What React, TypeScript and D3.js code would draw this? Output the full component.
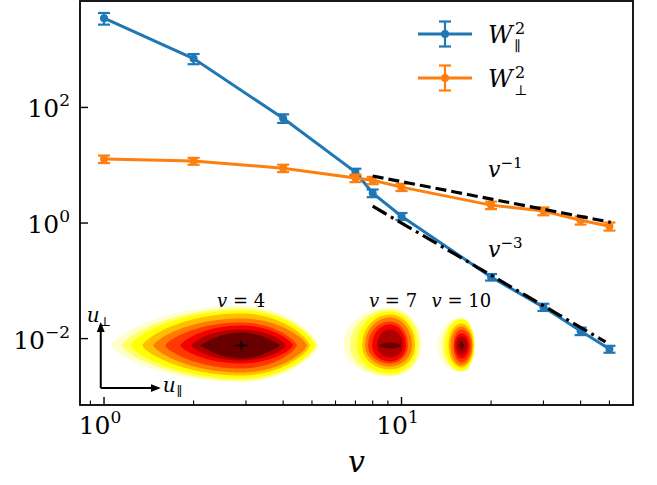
import React from "react";
import * as d3 from "d3";

// ---------- data ----------
const speeds = [1, 2, 4, 7, 8, 10, 20, 30, 40, 50];
const wPar = [3510, 700, 65, 7.6, 3.3, 1.31, 0.116, 0.0351, 0.0135, 0.0066];
const wParErr = [800, 140, 11, 1.1, 0.5, 0.18, 0.015, 0.005, 0.002, 0.0009];
const wPerp = [12.8, 11.8, 8.9, 6.0, 5.5, 4.18, 2.04, 1.61, 1.12, 0.88];
const wPerpErr = [1.9, 1.6, 1.3, 0.9, 0.8, 0.6, 0.3, 0.25, 0.18, 0.14];

const xMajor = [1, 10];
const xMajorExp = ["0", "1"];
const xMinor = [0.9, 2, 3, 4, 5, 6, 7, 8, 9, 20, 30, 40, 50];
const yMajor = [0.01, 1, 100];
const yMajorExp = ["−2", "0", "2"];

// guide slopes
const slope1Range = [8, 50.5];
const slope1Coef = 52;
const slope3Range = [8, 48.5];
const slope3Coef = 1000;

// inset velocity distributions (contour images)
const blobLabels = ["v = 4", "v = 7", "v = 10"];
const blobCenterV = [2.89, 9.15, 15.9];
const blobCenterY = 0.0076;
const levelTones = [0.05, 0.15, 0.25, 0.35, 0.45, 0.55, 0.65, 0.75, 0.85];
// extents per contour level: [left, right, up, down]
const blob4 = [
  [131, 78, 40, 37], [120, 76, 37, 35], [111, 74, 35, 33], [99, 69, 32, 30],
  [88, 66, 27, 27], [76, 56, 23, 23], [61, 52, 20, 18], [50, 45, 16, 15], [41, 39, 13, 13],
];
const blob7 = [
  [47, 32, 38, 31], [40, 30, 36, 30], [33, 27, 34, 28], [28, 25, 31, 24],
  [25, 22, 28, 21], [22, 18, 24, 18], [18, 16, 21, 16], [13, 13, 16, 12], [12, 12, 3, 3],
];
const blob10 = [
  [24, 14, 28, 27], [19, 13, 27, 26], [16, 13, 26, 25], [13, 12, 22, 22],
  [11, 11, 19, 20], [8, 10, 16, 17], [7, 8, 12, 13], [5, 6, 9, 9], [3, 3, 5, 5],
];
const blobLevels = [blob4, blob7, blob10];

// ---------- helpers ----------
function hotR(t: number) {
  const x = 1 - t;
  const r = Math.min(1, x / 0.365079);
  const g = Math.max(0, Math.min(1, (x - 0.365079) / (0.746032 - 0.365079)));
  const b = Math.max(0, Math.min(1, (x - 0.746032) / (1 - 0.746032)));
  return d3.rgb(r * 255, g * 255, b * 255).formatHex();
}

function blobPath(L: number, R: number, U: number, D: number, q: number, e: number) {
  const n = 60;
  const top: [number, number][] = [];
  const bot: [number, number][] = [];
  for (let i = 0; i <= n; i++) {
    const x = -L + ((L + R) * i) / n;
    const s = x < 0 ? L : R;
    const f = Math.pow(Math.max(0, 1 - Math.pow(Math.abs(x) / s, q)), e);
    top.push([x, -U * f]);
    bot.push([x, D * f]);
  }
  const pts = top.concat(bot.reverse());
  return (d3.line()(pts) || "") + "Z";
}

const FONT = "DejaVu Serif, serif";
const BLUE = "#1f77b4";
const ORANGE = "#ff7f0e";

export default function App() {
  const W = 657, H = 485;
  const left = 80, right = 633, top = 1, bottom = 405;
  const x = d3.scaleLog().domain([0.8303, 60.0]).range([left, right]);
  const y = d3.scaleLog().domain([Math.pow(10, -3.149), Math.pow(10, 3.842)]).range([bottom, top]);

  const line = d3.line<number>().x((_, i) => x(speeds[i])).y((d) => y(d));

  const series = [
    { vals: wPar, errs: wParErr, color: BLUE },
    { vals: wPerp, errs: wPerpErr, color: ORANGE },
  ];

  const capW = 6;

  const refLine = (range: number[], coef: number, p: number) => {
    const vs = d3.range(0, 21).map((i) => range[0] * Math.pow(range[1] / range[0], i / 20));
    return d3.line<number>().x((v) => x(v)).y((v) => y(coef / Math.pow(v, p)))(vs) || "";
  };

  const shapeQ = [2, 2, 2];
  const shapeE = [0.75, 0.5, 0.5];
  const innerQ = [2, 2, 1];
  const innerE = [1, 1, 1];

  const arrowOx = x(0.975);
  const arrowOy = y(0.00139);

  return (
    <svg width={W} height={H} style={{ position: "absolute", left: 0, top: 0, background: "#fff" }} fontFamily={FONT}>
      <defs>
        <clipPath id="plotclip">
          <rect x={left} y={top} width={right - left} height={bottom - top} />
        </clipPath>
        <marker id="arrowhead" viewBox="0 0 10 10" refX="8" refY="5" markerWidth="5" markerHeight="5" orient="auto">
          <path d="M0,1 L10,5 L0,9 Z" fill="#000" />
        </marker>
      </defs>

      <g clipPath="url(#plotclip)">
        {series.map((s, si) => (
          <g key={si}>
            <path d={line(s.vals) || ""} fill="none" stroke={s.color} strokeWidth={3} />
            {s.vals.map((v, i) => {
              const cx = x(speeds[i]);
              const y1 = y(v + s.errs[i]);
              const y2 = y(v - s.errs[i]);
              return (
                <g key={i} stroke={s.color} strokeWidth={2.2}>
                  <line x1={cx} x2={cx} y1={y1} y2={y2} />
                  <line x1={cx - capW} x2={cx + capW} y1={y1} y2={y1} />
                  <line x1={cx - capW} x2={cx + capW} y1={y2} y2={y2} />
                  <circle cx={cx} cy={y(v)} r={4} fill={s.color} stroke="none" />
                </g>
              );
            })}
          </g>
        ))}
        <path d={refLine(slope1Range, slope1Coef, 1)} fill="none" stroke="#000" strokeWidth={3.2} strokeDasharray="11,5" />
        <path d={refLine(slope3Range, slope3Coef, 3)} fill="none" stroke="#000" strokeWidth={3.2} strokeDasharray="16,5,3,5" />

        {blobLevels.map((levels, bi) => (
          <g key={bi} transform={`translate(${x(blobCenterV[bi])},${y(blobCenterY)})`}>
            {levels.map((ext, li) => {
              const last = li === levels.length - 1;
              return (
                <path
                  key={li}
                  d={blobPath(ext[0], ext[1], ext[2], ext[3], last ? innerQ[bi] : shapeQ[bi], last ? innerE[bi] : shapeE[bi])}
                  fill={hotR(levelTones[li])}
                />
              );
            })}
            {bi === 0 && (
              <g fill="#1a0000">
                <path d={blobPath(9, 9, 1.6, 1.6, 1, 1)} />
                <path d={blobPath(1.6, 1.6, 6, 6, 1, 1)} />
              </g>
            )}
          </g>
        ))}
      </g>

      {/* inset labels */}
      {blobLabels.map((lab, bi) => (
        <text key={bi} x={x(blobCenterV[bi]) + (bi === 1 ? 3 : 0)} y={y(blobCenterY) - 38} textAnchor="middle" fontSize={18}>
          <tspan fontStyle="italic">v</tspan>
          {lab.slice(1)}
        </text>
      ))}

      {/* inset axes arrows */}
      <g stroke="#000" strokeWidth={2}>
        <line x1={arrowOx} y1={arrowOy} x2={arrowOx} y2={arrowOy - 64} markerEnd="url(#arrowhead)" />
        <line x1={arrowOx} y1={arrowOy} x2={arrowOx + 58} y2={arrowOy} markerEnd="url(#arrowhead)" />
      </g>
      <text x={arrowOx - 14} y={arrowOy - 66} fontSize={20} fontStyle="italic">u</text>
      <text x={arrowOx - 2} y={arrowOy - 62} fontSize={13}>⊥</text>
      <text x={arrowOx + 62} y={arrowOy + 4} fontSize={20} fontStyle="italic">u</text>
      <text x={arrowOx + 76} y={arrowOy + 8} fontSize={13}>∥</text>

      {/* slope labels */}
      <text x={x(20) - 3} y={y(slope1Coef / 20) - 22} fontSize={22}>
        <tspan fontStyle="italic">v</tspan>
        <tspan dy={-9} fontSize={15}>−1</tspan>
      </text>
      <text x={x(20) - 3} y={y(slope3Coef / 8000) - 18} fontSize={22}>
        <tspan fontStyle="italic">v</tspan>
        <tspan dy={-9} fontSize={15}>−3</tspan>
      </text>

      {/* axes frame */}
      <rect x={left} y={top} width={right - left} height={bottom - top} fill="none" stroke="#000" strokeWidth={1.8} />

      {/* x ticks */}
      {xMajor.map((v, i) => (
        <g key={i}>
          <line x1={x(v)} x2={x(v)} y1={bottom} y2={bottom - 8} stroke="#000" strokeWidth={1.4} />
          <text x={x(v) - 4} y={bottom + 29} textAnchor="middle" fontSize={25}>
            10<tspan dy={-11} fontSize={17}>{xMajorExp[i]}</tspan>
          </text>
        </g>
      ))}
      {xMinor.map((v, i) => (
        <line key={i} x1={x(v)} x2={x(v)} y1={bottom} y2={bottom - 4.5} stroke="#000" strokeWidth={1.1} />
      ))}
      {/* y ticks */}
      {yMajor.map((v, i) => (
        <g key={i}>
          <line x1={left} x2={left + 8} y1={y(v)} y2={y(v)} stroke="#000" strokeWidth={1.4} />
          <text x={70} y={y(v) + 10} textAnchor="end" fontSize={25}>
            10<tspan dy={-11} fontSize={17}>{yMajorExp[i]}</tspan>
          </text>
        </g>
      ))}

      <text x={(left + right) / 2} y={472} textAnchor="middle" fontSize={30} fontStyle="italic">v</text>

      {/* legend */}
      {series.map((s, i) => {
        const ly = 34 + i * 44;
        const lx = 445;
        return (
          <g key={i}>
            <g stroke={s.color} strokeWidth={2.2}>
              <line x1={418} x2={472} y1={ly} y2={ly} strokeWidth={3} />
              <line x1={lx} x2={lx} y1={ly - 12.5} y2={ly + 12.5} />
              <line x1={lx - capW} x2={lx + capW} y1={ly - 12.5} y2={ly - 12.5} />
              <line x1={lx - capW} x2={lx + capW} y1={ly + 12.5} y2={ly + 12.5} />
              <circle cx={lx} cy={ly} r={4} fill={s.color} stroke="none" />
            </g>
            <text x={488} y={ly + 9} fontSize={24} fontStyle="italic">W</text>
            <text x={515} y={ly} fontSize={16}>2</text>
            <text x={514} y={ly + 17} fontSize={14}>{i === 0 ? "∥" : "⊥"}</text>
          </g>
        );
      })}
    </svg>
  );
}
